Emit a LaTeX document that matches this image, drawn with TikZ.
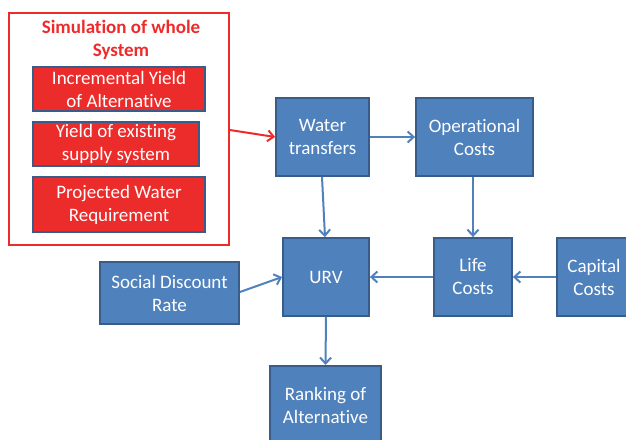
\documentclass[tikz,border=0pt]{standalone}
\usepackage{fontspec}
\setmainfont{Carlito}[RawFeature={-liga;-clig;-calt;-dlig}]
\usetikzlibrary{arrows.meta}
\definecolor{bfill}{HTML}{4F81BD}
\definecolor{bline}{HTML}{385D8A}
\definecolor{rfill}{HTML}{EC2B2B}
\definecolor{rline}{HTML}{EE2A2A}
\tikzset{
  txt/.style={font=\fontsize{19}{23}\selectfont},
  bbox/.style={draw=bline, line width=1.8pt, fill=bfill, text=white, align=center, txt, inner sep=0pt},
  rbox/.style={draw=bline, line width=1.8pt, fill=rfill, text=white, align=center, txt, inner sep=0pt},
  conn/.style={draw=bfill, line width=2pt, -{Straight Barb[length=6pt,width=11pt,line width=2pt]}},
  rconn/.style={draw=rline, line width=2pt, -{Straight Barb[length=6pt,width=11pt,line width=2pt]}}
}
\begin{document}
\begin{tikzpicture}[x=1pt,y=-1pt]
\useasboundingbox (0,0) rectangle (626,439);
\clip (0,0) rectangle (626,439);
% red outer
\node[draw=rline, line width=1.6pt, minimum width=220pt, minimum height=232pt, inner sep=0pt] (sim) at (119,129) {};
\node[text=rline, font=\fontsize{19}{23}\selectfont\bfseries, align=center] (title) at (121,40) {Simulation of whole\\System};
\node[rbox, minimum width=172pt, minimum height=44pt] (iy) at (119,89) {Incremental Yield\\of Alternative};
\node[rbox, minimum width=166pt, minimum height=44pt] (ye) at (116,144) {Yield of existing\\supply system};
\node[rbox, minimum width=172pt, minimum height=55pt] (pw) at (119,204.5) {Projected Water\\Requirement};
% blue
\node[bbox, minimum width=93pt, minimum height=78pt] (wt) at (322.5,137) {Water\\transfers};
\node[bbox, minimum width=117pt, minimum height=78pt] (oc) at (474.5,137) {Operational\\Costs};
\node[bbox, minimum width=86pt, minimum height=78pt] (urv) at (326,277) {URV};
\node[bbox, minimum width=78pt, minimum height=78pt] (lc) at (473,277) {Life\\Costs};
\node[bbox, minimum width=78pt, minimum height=78pt, anchor=west] (cc) at (556,277) {};
\node[text=white, txt, align=center] (cct) at (594,277) {Capital\\Costs};
\node[bbox, minimum width=139pt, minimum height=62pt] (sdr) at (169.5,293) {Social Discount\\Rate};
\node[bbox, minimum width=111pt, minimum height=80pt, anchor=north] (rk) at (325.5,365) {};
\node[text=white, txt, align=center] (rkt) at (325.5,405) {Ranking of\\Alternative};
% connectors
\draw[rconn] (sim.east |- 0,130) -- (wt.west |- 0,137);
\draw[conn] (wt.east) -- (oc.west);
\draw[conn] (wt.south -| 322,0) -- (urv.north -| 325,0);
\draw[conn] (oc.south -| 473,0) -- (lc.north);
\draw[conn] (lc.west) -- (urv.east);
\draw[conn] (cc.west) -- (lc.east);
\draw[conn] (sdr.east |- 0,292) -- (urv.west);
\draw[conn] (urv.south) -- (rk.north);
\end{tikzpicture}
\end{document}
